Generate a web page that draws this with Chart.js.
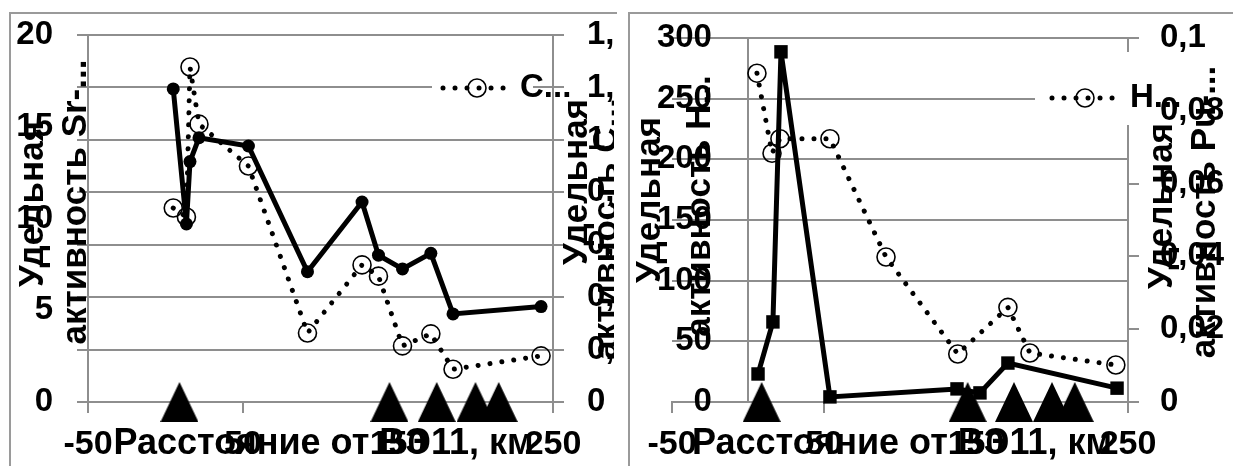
<!DOCTYPE html>
<html><head><meta charset="utf-8">
<script src="https://cdn.jsdelivr.net/npm/chart.js@4.4.1/dist/chart.umd.min.js"></script>
<style>
html,body{margin:0;padding:0;background:#fff;overflow:hidden;width:1233px;height:466px;}
.box{position:absolute;border:2px solid #9a9a9a;border-bottom:none;}
#b1{left:9px;top:12px;width:606px;height:470px;border-right:none;}
#b2{left:628px;top:12px;width:620px;height:470px;border-right:none;}
canvas{position:absolute;}
</style></head><body>
<div class="box" id="b1"></div><div class="box" id="b2"></div>
<canvas id="c1" style="left:11px;top:14px" width="603" height="452"></canvas>
<canvas id="c2" style="left:630px;top:14px" width="603" height="452"></canvas>
<script>
// ---- data (left chart) ----
const srDistance = [5, 13.5, 15.8, 21.6, 53.5, 91.6, 126.8, 137.4, 152.9, 171.2, 185.5, 242.3];
const srValues   = [17.06, 9.7, 13.1, 14.4, 13.95, 7.1, 10.9, 8.0, 7.25, 8.1, 4.8, 5.2];
const csDistance = [5, 13.5, 15.8, 21.6, 53.5, 91.6, 126.8, 137.4, 152.9, 171.2, 185.5, 242.3];
const csValues   = [0.74, 0.706, 1.278, 1.06, 0.90, 0.263, 0.523, 0.48, 0.214, 0.26, 0.125, 0.176];
// ---- data (right chart) ----
const hDistance  = [5.9, 15.8, 21, 53.9, 90.8, 138, 171, 185.5, 242];
const hValues    = [271, 205, 217, 217, 119.5, 39.6, 78, 40.4, 30.5];
const puDistance = [6.6, 16.4, 21.7, 53.9, 137.5, 152.6, 171, 242.8];
const puValues   = [0.0077, 0.022, 0.0962, 0.0014, 0.0036, 0.0025, 0.0107, 0.0038];
// ---- site markers (triangles on the axis) ----
const siteDistance = [9, 144.5, 175, 200, 215];
const siteLevel    = [0, 0, 0, 0, 0];
// ---- labels ----
const xTitle = 'Расстояние от ВЭ11, км';
const leftTitles1 = ['Удельная', 'активность Sr-...'];
const rightTitles1 = ['Удельная', 'активность С...'];
const leftTitles2 = ['Удельная', 'активность Н...'];
const rightTitles2 = ['Удельная', 'активность Pu-...'];
const legend1 = 'С...';
const legend2 = 'Н...';

const FONT = '"Liberation Sans", Arial, sans-serif';
const GRID = '#8e8e8e';
const pairs = (xs, ys) => xs.map((x, i) => ({x, y: ys[i]}));
const fmt = v => String(Math.round(v * 1000) / 1000).replace('.', ',');

function triangleImage() {
  const c = document.createElement('canvas');
  c.width = 38; c.height = 40;
  const g = c.getContext('2d');
  g.fillStyle = '#000';
  g.beginPath(); g.moveTo(19, 0); g.lineTo(38, 40); g.lineTo(0, 40); g.closePath(); g.fill();
  return c;
}
const TRI = triangleImage();

const tickFont = {family: FONT, size: 33, weight: 'bold'};
const xTickFont = {family: FONT, size: 34, weight: 'bold'};
const noPadV = s => { s.paddingTop = 0; s.paddingBottom = 0; };

const overlay = {
  id: 'overlay',
  afterDraw(chart, args, o) {
    const ctx = chart.ctx, ca = chart.chartArea;
    ctx.save();
    const L = o.legend;
    ctx.fillStyle = '#fff';
    ctx.fillRect(L.bx, L.by, L.bw, L.bh);
    ctx.strokeStyle = '#000'; ctx.lineWidth = 5; ctx.lineCap = 'round';
    ctx.setLineDash([0.01, 12]);
    ctx.beginPath(); ctx.moveTo(L.x0, L.y); ctx.lineTo(L.x1, L.y); ctx.stroke();
    ctx.setLineDash([]);
    ctx.lineWidth = 1.6;
    ctx.beginPath(); ctx.arc(L.cx, L.y, 9, 0, Math.PI * 2); ctx.stroke();
    ctx.fillStyle = '#000';
    ctx.font = 'bold 33px ' + FONT;
    ctx.textAlign = 'left'; ctx.textBaseline = 'middle';
    ctx.fillText(L.text, L.tx, L.y);
    ctx.font = 'bold 36px ' + FONT;
    ctx.textAlign = 'center';
    ctx.fillText(o.xTitle, (ca.left + ca.right) / 2 + o.xDx, o.xY);
    ctx.font = 'bold 35px ' + FONT;
    for (const t of o.yTitles) {
      ctx.save(); ctx.translate(t.x, t.y); ctx.rotate(-Math.PI / 2);
      ctx.fillText(t.text, 0, 0); ctx.restore();
    }
    ctx.restore();
  }
};

const solid = (data, yAxisID, style, r) => ({data, yAxisID, showLine: true, borderColor: '#000', borderWidth: 5,
  pointStyle: style, pointRadius: r, pointHoverRadius: r, pointBackgroundColor: '#000', pointBorderColor: '#000', pointBorderWidth: 0, clip: false});
const dotted = (data, yAxisID) => ({data, yAxisID, showLine: true, borderColor: '#000', borderWidth: 5,
  borderDash: [0.01, 12], borderCapStyle: 'round', pointStyle: 'circle', pointRadius: 9, pointHoverRadius: 9,
  pointBackgroundColor: 'rgba(0,0,0,0)', pointBorderColor: '#000', pointBorderWidth: 1.6, clip: false});
const sites = (yAxisID) => ({data: pairs(siteDistance, siteLevel), yAxisID, showLine: false, pointStyle: TRI,
  pointRadius: 20, pointHoverRadius: 20, clip: false});

const xScale = {type: 'linear', position: 'bottom', min: -50, max: 250,
  ticks: {stepSize: 100, maxRotation: 0, autoSkip: false, font: xTickFont, color: '#000', padding: 11},
  grid: {drawOnChartArea: false, color: GRID, lineWidth: 2, tickLength: 11},
  border: {color: GRID, width: 2},
  afterFit(s) { s.height = 64; s.paddingLeft = 0; s.paddingRight = 0; }};

new Chart(document.getElementById('c1'), {
  type: 'scatter',
  data: {datasets: [
    solid(pairs(srDistance, srValues), 'y', 'circle', 6.5),
    dotted(pairs(csDistance, csValues), 'y2'),
    sites('y')
  ]},
  options: {
    responsive: false, animation: false, events: [],
    layout: {padding: {left: 0, top: 21, right: 0, bottom: 0}},
    plugins: {legend: {display: false}, tooltip: {enabled: false},
      overlay: {
        legend: {bx: 421, by: 56, bw: 101, bh: 36, x0: 432, x1: 496, cx: 466, y: 74, tx: 509, text: legend1},
        xTitle: xTitle, xDx: 3, xY: 430.5,
        yTitles: [
          {text: leftTitles1[0], x: 22, y: 190}, {text: leftTitles1[1], x: 65, y: 188},
          {text: rightTitles1[0], x: 566, y: 168}, {text: rightTitles1[1], x: 596, y: 215}
        ]}},
    scales: {
      x: xScale,
      yg: {type: 'linear', position: 'left', weight: 0, min: 0, max: 1.4,
        ticks: {display: false, stepSize: 0.2},
        grid: {drawOnChartArea: false, color: GRID, lineWidth: 2, tickLength: 11},
        border: {color: GRID, width: 2}, afterFit(s) { s.width = 11; noPadV(s); }},
      y: {type: 'linear', position: 'left', weight: 1, min: 0, max: 20,
        ticks: {stepSize: 5, padding: 24, font: tickFont, color: '#000'},
        grid: {display: false, drawTicks: false}, border: {display: false}, afterFit(s) { s.width = 66; noPadV(s); }},
      y2: {type: 'linear', position: 'right', min: 0, max: 1.4,
        ticks: {stepSize: 0.2, padding: 23, font: tickFont, color: '#000', callback: v => fmt(v)},
        grid: {color: GRID, lineWidth: 2, tickLength: 11},
        border: {color: GRID, width: 2}, afterFit(s) { s.width = 61; noPadV(s); }}
    }
  },
  plugins: [overlay]
});

new Chart(document.getElementById('c2'), {
  type: 'scatter',
  data: {datasets: [
    solid(pairs(puDistance, puValues), 'y2', 'rect', 9.5),
    dotted(pairs(hDistance, hValues), 'y'),
    sites('y')
  ]},
  options: {
    responsive: false, animation: false, events: [],
    layout: {padding: {left: 42, top: 24, right: 0, bottom: 0}},
    plugins: {legend: {display: false}, tooltip: {enabled: false},
      overlay: {
        legend: {bx: 405, by: 38, bw: 115, bh: 73, x0: 422, x1: 483, cx: 455, y: 84, tx: 500, text: legend2},
        xTitle: xTitle, xDx: 2, xY: 430.5,
        yTitles: [
          {text: leftTitles2[0], x: 20, y: 186}, {text: leftTitles2[1], x: 70, y: 192},
          {text: rightTitles2[0], x: 532, y: 192}, {text: rightTitles2[1], x: 575, y: 198}
        ]}},
    scales: {
      x: xScale,
      y: {type: 'linear', position: {x: 0}, min: 0, max: 300,
        ticks: {display: false, stepSize: 50},
        grid: {color: GRID, lineWidth: 2, tickLength: 11},
        border: {color: GRID, width: 2}, afterFit: noPadV},
      yl: {type: 'linear', position: {x: -23.7}, min: 0, max: 300,
        ticks: {stepSize: 50, font: tickFont, color: '#000'},
        grid: {display: false, drawTicks: false}, border: {display: false}, afterFit: noPadV},
      y2: {type: 'linear', position: 'right', min: 0, max: 0.1,
        ticks: {stepSize: 0.02, padding: 21, font: tickFont, color: '#000', callback: v => fmt(v)},
        grid: {drawOnChartArea: false, color: GRID, lineWidth: 2, tickLength: 11},
        border: {color: GRID, width: 2}, afterFit(s) { s.width = 105; noPadV(s); }}
    }
  },
  plugins: [overlay]
});
</script>
</body></html>
